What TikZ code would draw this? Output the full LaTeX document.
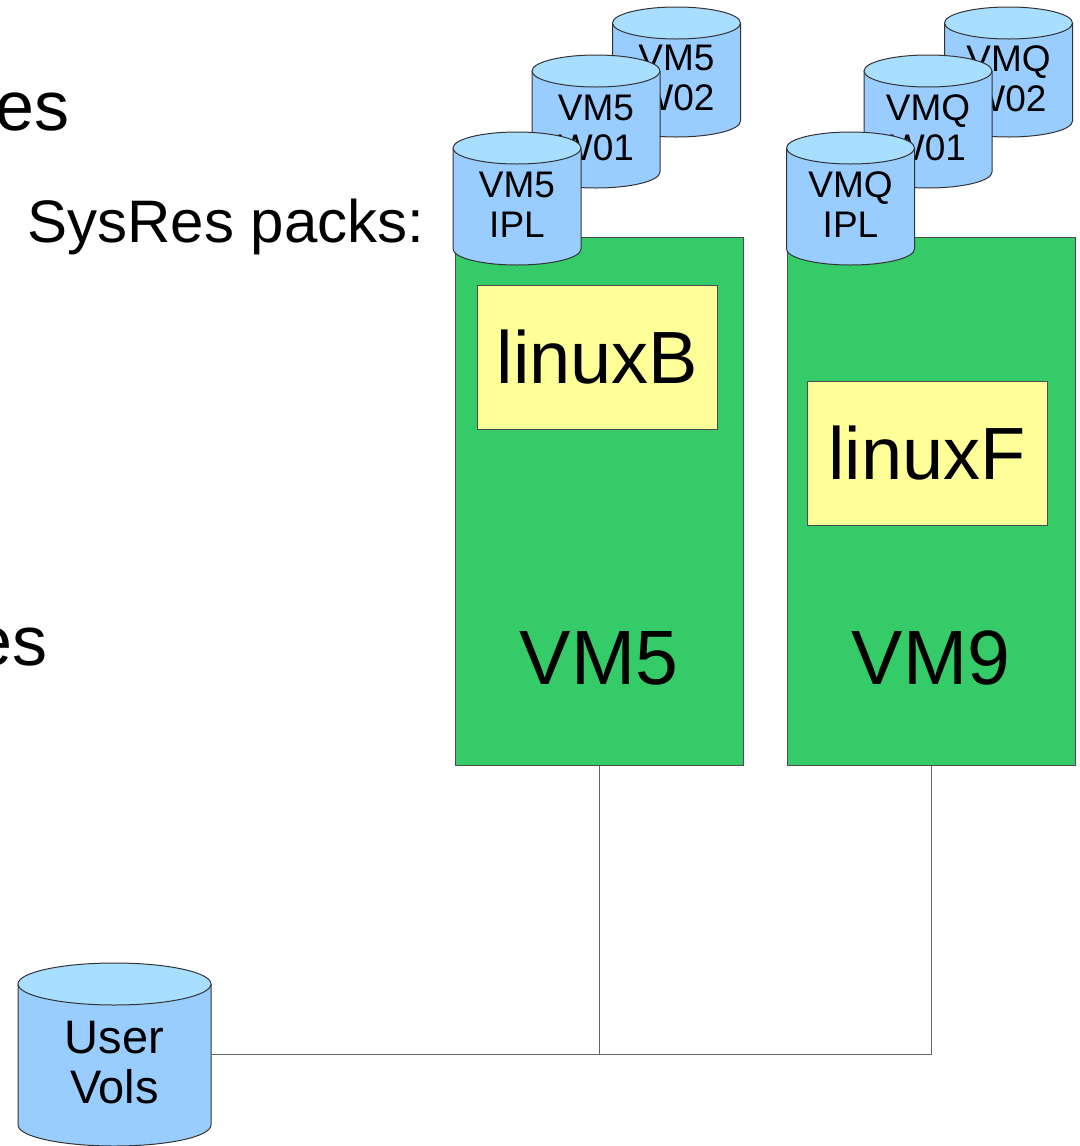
\documentclass[tikz,border=0pt]{standalone}
\usepackage{fontspec}
\setmainfont{Liberation Sans}

\definecolor{hostgreen}{RGB}{53,203,105}
\definecolor{guestyellow}{RGB}{255,255,153}
\definecolor{diskblue}{RGB}{153,204,255}
\definecolor{disktopblue}{RGB}{168,222,255}

\newcommand{\disk}[7][disktext]{%
  \begin{scope}[shift={#3}]
    \draw[diskside] (-#4,0) -- (-#4,-#6) arc[start angle=180,end angle=360,x radius=#4,y radius=#5] -- (#4,0);
    \draw[disktop] (0,0) ellipse[x radius=#4,y radius=#5];
    \node[#1] (#2) at (0,-#6/2-0.4*#5) {#7};
    \coordinate (#2-r) at (#4,-#6/2);
  \end{scope}}

\begin{document}
\begin{tikzpicture}[x=0.5pt,y=0.5pt,
		host/.style={draw=black!70,fill=hostgreen,line width=0.5pt,minimum width=144pt,minimum height=264pt,inner sep=0pt},
		guest/.style={draw=black!70,fill=guestyellow,line width=0.5pt,minimum width=120pt,minimum height=72pt,inner sep=0pt,font=\fontsize{37}{40}\selectfont},
		hostname/.style={inner sep=0pt,font=\fontsize{38.5}{42}\selectfont},
		diskside/.style={draw=black!80,fill=diskblue,line width=0.5pt},
		disktop/.style={draw=black!80,fill=disktopblue,line width=0.5pt},
		disktext/.style={align=center,inner sep=0pt,font=\fontsize{18.5}{20}\selectfont},
		bigdisktext/.style={align=center,inner sep=0pt,font=\fontsize{23.5}{25}\selectfont},
		wire/.style={draw=black!60,line width=0.5pt},
		slide/.style={inner sep=0pt}]
		\useasboundingbox (0,0) rectangle (1080,-1146);
		\node[slide,anchor=base east,font=\fontsize{35}{40}\selectfont] (toptail) at (70,-130) {es};
		\node[slide,anchor=base west,font=\fontsize{30}{36}\selectfont] (sysres) at (27,-242) {SysRes packs:};
		\node[slide,anchor=base east,font=\fontsize{35}{40}\selectfont] (lowtail) at (48,-665) {es};
		
		\node[host] (vmfive) at (599,-501) {};
		\node[host] (vmnine) at (931,-501) {};
		\node[hostname] (vmfivename) at (599,-658) {VM5};
		\node[hostname] (vmninename) at (931,-658) {VM9};
		\node[guest] (linuxb) at (597.5,-357) {linuxB};
		\node[guest] (linuxf) at (927,-453) {linuxF};
		
		\disk{vmfivetwo}{(676.5,-23)}{64}{16}{98}{VM5\\W02}
		\disk{vmfiveone}{(596,-71)}{64}{16}{101}{VM5\\W01}
		\disk{vmfiveipl}{(517,-148)}{64}{16}{101}{VM5\\IPL}
		\disk{vmqtwo}{(1008.5,-23)}{64}{16}{98}{VMQ\\W02}
		\disk{vmqone}{(928,-71)}{64}{16}{101}{VMQ\\W01}
		\disk{vmqipl}{(850.5,-148)}{64}{16}{101}{VMQ\\IPL}
		\disk[bigdisktext]{uservols}{(114.5,-984)}{96.5}{21}{141}{User\\Vols}
		
		\draw[wire] (vmfive.south) -- (vmfive.south |- uservols-r);
		\draw[wire] (uservols-r) -- (vmnine.south |- uservols-r) -- (vmnine.south);
		\end{tikzpicture}
\end{document}
